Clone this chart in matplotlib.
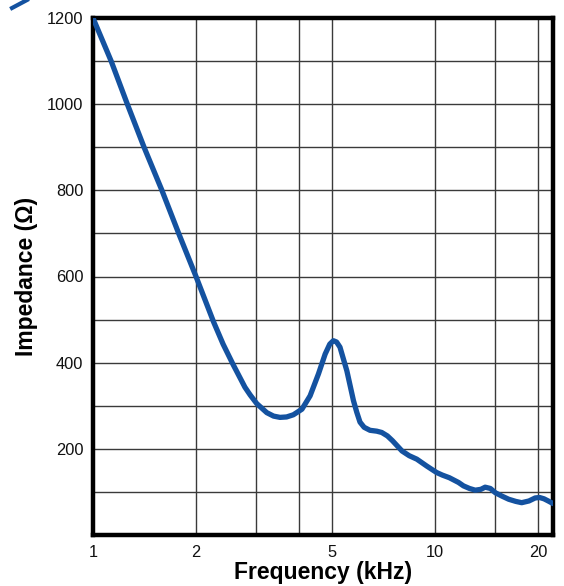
import matplotlib
matplotlib.use("Agg")
import matplotlib.pyplot as plt
from matplotlib.lines import Line2D

plt.rcParams['font.family'] = ['Liberation Sans', 'DejaVu Sans']

freq_khz = [1.00, 1.13, 1.26, 1.41, 1.59, 1.78, 2.00, 2.25, 2.40, 2.57, 2.78,
            2.88, 3.01, 3.22, 3.37, 3.52, 3.68, 3.85, 4.08, 4.31, 4.56, 4.77, 4.92,
            5.04, 5.15, 5.27, 5.52, 5.77, 5.90, 6.03, 6.20, 6.45, 6.75, 6.98, 7.25,
            7.50, 8.00, 8.40, 8.84, 9.45, 10.1, 10.5, 11.0, 11.7, 12.1, 12.6, 13.1,
            13.6, 14.0, 14.5, 15.0, 15.7, 16.4, 17.2, 17.9, 18.8, 19.6, 20.2, 20.8,
            21.4, 22.1]
impedance = [1200, 1100, 1000, 900, 800, 700, 600, 495, 443, 395, 343,
             325, 305, 284, 276, 273, 274, 279, 292, 323, 374, 420, 443,
             451, 448, 436, 381, 312, 285, 262, 250, 243, 241, 238, 230,
             219, 195, 184, 176, 160, 145, 139, 133, 122, 114, 108, 104,
             106, 111, 108, 98, 90, 83, 78, 75, 79, 86, 87, 84,
             79, 73]

x_ticks = [1, 2, 5, 10, 20]
x_grid = [2, 3, 4, 5, 10, 15, 20]
y_ticks = [200, 400, 600, 800, 1000, 1200]
y_grid = [100, 200, 300, 400, 500, 600, 700, 800, 900, 1000, 1100]

fig = plt.figure(figsize=(5.64, 5.86), dpi=100)
ax = fig.add_axes([93/564, 1-535/586, (553-93)/564, (535-18)/586])

ax.set_xscale('log')
ax.set_xlim(1, 22.1)
ax.set_ylim(0, 1200)

for g in x_grid:
    ax.axvline(g, color='#3a3a3a', lw=1.0, zorder=1)
for g in y_grid:
    ax.axhline(g, color='#3a3a3a', lw=1.0, zorder=1)

ax.plot(freq_khz, impedance, color='#1452a0', lw=3.8, solid_capstyle='round',
        solid_joinstyle='round', zorder=3)

ax.set_xticks(x_ticks)
ax.set_xticklabels([str(t) for t in x_ticks])
ax.xaxis.set_minor_locator(matplotlib.ticker.NullLocator())
ax.set_yticks(y_ticks)
ax.set_yticklabels([str(t) for t in y_ticks])
ax.tick_params(axis='both', length=0, labelsize=11.8, pad=7, colors='#111111')

for s in ax.spines.values():
    s.set_linewidth(3.2)
    s.set_color('black')

ax.set_xlabel('Frequency (kHz)', fontsize=16.5, fontweight='bold', labelpad=1)
ax.set_ylabel('Impedance (Ω)', fontsize=16.5, fontweight='bold', labelpad=6)

fig.lines.append(Line2D([12/564, 27/564], [1-8/586, 1-0/586], transform=fig.transFigure,
                        color='#1452a0', lw=3))

fig.savefig('out.png', dpi=100)
